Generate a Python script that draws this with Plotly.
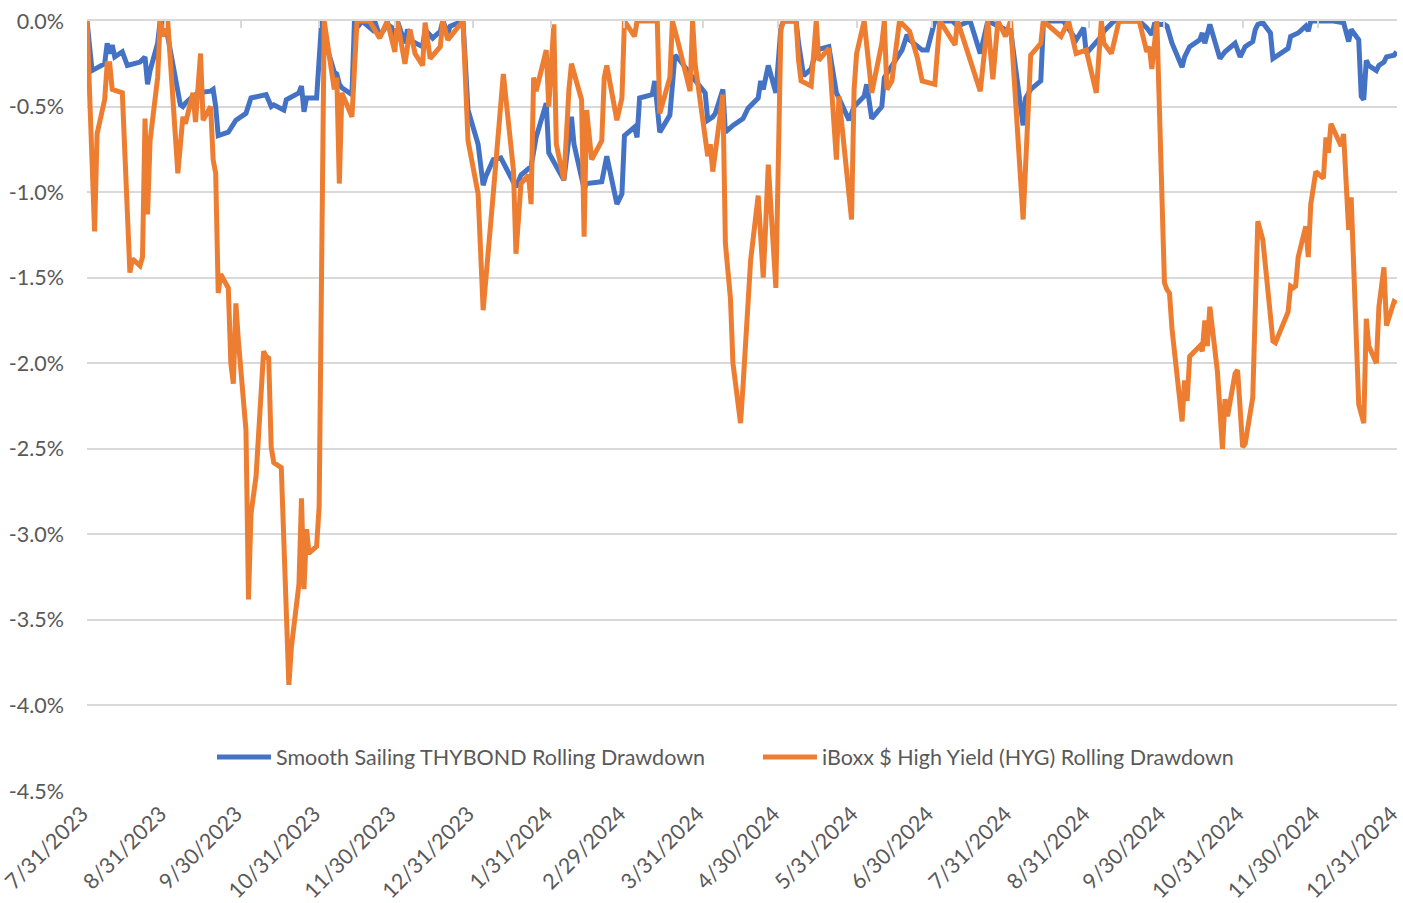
import plotly.graph_objects as go

THY_NAME = "Smooth Sailing THYBOND Rolling Drawdown"
HYG_NAME = "iBoxx $ High Yield (HYG) Rolling Drawdown"

THY_DATES = [
    "2023-07-31", "2023-08-02", "2023-08-07", "2023-08-08", "2023-08-09", "2023-08-10", "2023-08-11",
    "2023-08-14", "2023-08-16", "2023-08-21", "2023-08-23", "2023-08-24", "2023-08-25", "2023-08-28",
    "2023-08-29", "2023-08-31", "2023-09-01", "2023-09-06", "2023-09-07", "2023-09-08", "2023-09-11",
    "2023-09-13", "2023-09-18", "2023-09-19", "2023-09-20", "2023-09-21", "2023-09-25", "2023-09-28",
    "2023-10-02", "2023-10-04", "2023-10-10", "2023-10-12", "2023-10-13", "2023-10-17", "2023-10-18",
    "2023-10-23", "2023-10-24", "2023-10-25", "2023-10-26", "2023-10-30", "2023-11-01", "2023-11-02",
    "2023-11-06", "2023-11-07", "2023-11-08", "2023-11-09", "2023-11-13", "2023-11-14", "2023-11-15",
    "2023-11-16", "2023-11-17", "2023-11-21", "2023-11-22", "2023-11-24", "2023-11-27", "2023-11-29",
    "2023-11-30", "2023-12-01", "2023-12-04", "2023-12-05", "2023-12-07", "2023-12-11", "2023-12-12",
    "2023-12-14", "2023-12-15", "2023-12-18", "2023-12-19", "2023-12-21", "2023-12-22", "2023-12-27",
    "2023-12-29", "2024-01-02", "2024-01-03", "2024-01-04", "2024-01-05", "2024-01-08", "2024-01-11",
    "2024-01-16", "2024-01-17", "2024-01-19", "2024-01-22", "2024-01-23", "2024-01-25", "2024-01-29",
    "2024-01-30", "2024-02-05", "2024-02-08", "2024-02-09", "2024-02-13", "2024-02-14", "2024-02-20",
    "2024-02-22", "2024-02-26", "2024-02-28", "2024-02-29", "2024-03-04", "2024-03-05", "2024-03-06",
    "2024-03-11", "2024-03-12", "2024-03-14", "2024-03-18", "2024-03-20", "2024-03-22", "2024-03-26",
    "2024-04-01", "2024-04-02", "2024-04-04", "2024-04-05", "2024-04-08", "2024-04-09", "2024-04-12",
    "2024-04-16", "2024-04-18", "2024-04-22", "2024-04-23", "2024-04-24", "2024-04-25", "2024-04-26",
    "2024-04-29", "2024-05-01", "2024-05-02", "2024-05-07", "2024-05-08", "2024-05-10", "2024-05-13",
    "2024-05-15", "2024-05-20", "2024-05-23", "2024-05-24", "2024-05-28", "2024-05-30", "2024-06-03",
    "2024-06-04", "2024-06-06", "2024-06-10", "2024-06-11", "2024-06-18", "2024-06-20", "2024-06-21",
    "2024-06-26", "2024-06-28", "2024-07-01", "2024-07-08", "2024-07-10", "2024-07-15", "2024-07-19",
    "2024-07-22", "2024-07-29", "2024-07-31", "2024-08-05", "2024-08-06", "2024-08-08", "2024-08-12",
    "2024-08-13", "2024-08-14", "2024-08-21", "2024-08-26", "2024-08-29", "2024-08-30", "2024-09-05",
    "2024-09-06", "2024-09-09", "2024-09-10", "2024-09-20", "2024-09-23", "2024-09-25", "2024-09-26",
    "2024-09-30", "2024-10-01", "2024-10-03", "2024-10-07", "2024-10-08", "2024-10-10", "2024-10-14",
    "2024-10-15", "2024-10-16", "2024-10-18", "2024-10-22", "2024-10-24", "2024-10-28", "2024-10-30",
    "2024-11-01", "2024-11-04", "2024-11-05", "2024-11-06", "2024-11-08", "2024-11-11", "2024-11-12",
    "2024-11-18", "2024-11-19", "2024-11-22", "2024-11-25", "2024-11-26", "2024-11-27", "2024-12-06",
    "2024-12-10", "2024-12-12", "2024-12-13", "2024-12-16", "2024-12-17", "2024-12-18", "2024-12-19",
    "2024-12-20", "2024-12-23", "2024-12-24", "2024-12-26", "2024-12-27", "2024-12-30", "2024-12-31",
]
THY_DD = [
    0.00, -0.29, -0.25, -0.13, -0.19, -0.14, -0.21,
    -0.18, -0.26, -0.24, -0.21, -0.37, -0.29, -0.13,
    0.00, 0.00, -0.09, -0.49, -0.50, -0.48, -0.44,
    -0.42, -0.41, -0.40, -0.50, -0.67, -0.65, -0.58,
    -0.54, -0.45, -0.43, -0.50, -0.49, -0.52, -0.46,
    -0.42, -0.38, -0.53, -0.45, -0.45, 0.00, -0.10,
    -0.30, -0.31, -0.37, -0.39, -0.43, 0.00, 0.00,
    -0.02, 0.00, -0.05, 0.00, -0.09, -0.02, -0.04,
    -0.10, 0.00, -0.13, -0.05, -0.12, -0.15, -0.05,
    -0.08, -0.10, -0.06, 0.00, -0.07, -0.03, 0.00,
    -0.52, -0.72, -0.85, -0.96, -0.91, -0.81, -0.80,
    -0.95, -0.97, -0.90, -0.86, -0.85, -0.68, -0.48,
    -0.77, -0.93, -0.56, -0.72, -0.98, -0.95, -0.94,
    -0.79, -1.07, -1.01, -0.67, -0.62, -0.68, -0.45,
    -0.43, -0.35, -0.65, -0.55, -0.20, -0.23, -0.31,
    -0.42, -0.58, -0.56, -0.54, -0.40, -0.65, -0.61,
    -0.57, -0.51, -0.45, -0.35, -0.40, -0.34, -0.26,
    -0.42, -0.04, 0.00, 0.00, -0.13, -0.32, -0.28,
    -0.17, -0.15, -0.42, -0.45, -0.58, -0.50, -0.44,
    -0.37, -0.57, -0.50, -0.33, -0.17, -0.08, -0.11,
    -0.17, -0.17, 0.00, 0.00, -0.03, 0.00, -0.19,
    0.00, -0.05, -0.05, -0.61, -0.45, -0.40, -0.35,
    -0.02, 0.00, 0.00, -0.11, -0.04, -0.19, -0.09,
    -0.06, -0.02, 0.00, 0.00, -0.04, -0.08, -0.02,
    -0.02, -0.03, -0.13, -0.27, -0.21, -0.15, -0.11,
    -0.07, -0.13, -0.02, -0.22, -0.18, -0.13, -0.21,
    -0.15, -0.12, -0.05, -0.02, -0.01, -0.07, -0.22,
    -0.16, -0.09, -0.07, -0.03, -0.06, 0.00, 0.00,
    -0.01, -0.12, -0.05, -0.11, -0.44, -0.46, -0.23,
    -0.26, -0.29, -0.26, -0.24, -0.21, -0.20, -0.18,
]

HYG_DATES = [
    "2023-07-31", "2023-08-03", "2023-08-04", "2023-08-07", "2023-08-08", "2023-08-09", "2023-08-10",
    "2023-08-14", "2023-08-17", "2023-08-18", "2023-08-21", "2023-08-22", "2023-08-23", "2023-08-24",
    "2023-08-25", "2023-08-28", "2023-08-29", "2023-08-30", "2023-09-01", "2023-09-05", "2023-09-07",
    "2023-09-08", "2023-09-11", "2023-09-12", "2023-09-14", "2023-09-15", "2023-09-18", "2023-09-19",
    "2023-09-20", "2023-09-21", "2023-09-22", "2023-09-25", "2023-09-26", "2023-09-27", "2023-09-28",
    "2023-09-29", "2023-10-02", "2023-10-03", "2023-10-04", "2023-10-06", "2023-10-09", "2023-10-10",
    "2023-10-11", "2023-10-12", "2023-10-13", "2023-10-16", "2023-10-19", "2023-10-20", "2023-10-23",
    "2023-10-24", "2023-10-25", "2023-10-26", "2023-10-27", "2023-10-30", "2023-10-31", "2023-11-01",
    "2023-11-02", "2023-11-06", "2023-11-07", "2023-11-08", "2023-11-09", "2023-11-13", "2023-11-14",
    "2023-11-15", "2023-11-20", "2023-11-24", "2023-11-27", "2023-11-30", "2023-12-01", "2023-12-04",
    "2023-12-06", "2023-12-08", "2023-12-11", "2023-12-12", "2023-12-14", "2023-12-18", "2023-12-19",
    "2023-12-21", "2023-12-27", "2023-12-29", "2024-01-02", "2024-01-04", "2024-01-08", "2024-01-12",
    "2024-01-16", "2024-01-17", "2024-01-19", "2024-01-22", "2024-01-23", "2024-01-24", "2024-01-25",
    "2024-01-29", "2024-01-30", "2024-02-01", "2024-02-02", "2024-02-05", "2024-02-07", "2024-02-08",
    "2024-02-12", "2024-02-13", "2024-02-14", "2024-02-16", "2024-02-20", "2024-02-21", "2024-02-22",
    "2024-02-26", "2024-02-28", "2024-02-29", "2024-03-04", "2024-03-05", "2024-03-13", "2024-03-14",
    "2024-03-18", "2024-03-19", "2024-03-21", "2024-03-26", "2024-03-27", "2024-03-28", "2024-04-02",
    "2024-04-03", "2024-04-04", "2024-04-08", "2024-04-09", "2024-04-10", "2024-04-11", "2024-04-12",
    "2024-04-15", "2024-04-16", "2024-04-18", "2024-04-19", "2024-04-22", "2024-04-24", "2024-04-25",
    "2024-04-26", "2024-04-29", "2024-05-01", "2024-05-02", "2024-05-07", "2024-05-08", "2024-05-09",
    "2024-05-13", "2024-05-14", "2024-05-15", "2024-05-16", "2024-05-20", "2024-05-23", "2024-05-24",
    "2024-05-29", "2024-05-30", "2024-05-31", "2024-06-03", "2024-06-06", "2024-06-07", "2024-06-10",
    "2024-06-11", "2024-06-12", "2024-06-14", "2024-06-17", "2024-06-21", "2024-06-24", "2024-06-26",
    "2024-07-01", "2024-07-03", "2024-07-09", "2024-07-10", "2024-07-19", "2024-07-22", "2024-07-24",
    "2024-07-26", "2024-07-29", "2024-07-31", "2024-08-05", "2024-08-08", "2024-08-12", "2024-08-13",
    "2024-08-20", "2024-08-23", "2024-08-26", "2024-08-30", "2024-09-03", "2024-09-05", "2024-09-06",
    "2024-09-09", "2024-09-12", "2024-09-20", "2024-09-23", "2024-09-24", "2024-09-25", "2024-09-27",
    "2024-09-30", "2024-10-01", "2024-10-02", "2024-10-03", "2024-10-07", "2024-10-08", "2024-10-09",
    "2024-10-10", "2024-10-14", "2024-10-15", "2024-10-16", "2024-10-17", "2024-10-18", "2024-10-21",
    "2024-10-22", "2024-10-23", "2024-10-24", "2024-10-25", "2024-10-28", "2024-10-29", "2024-10-31",
    "2024-11-01", "2024-11-04", "2024-11-05", "2024-11-06", "2024-11-08", "2024-11-11", "2024-11-12",
    "2024-11-13", "2024-11-18", "2024-11-19", "2024-11-20", "2024-11-21", "2024-11-22", "2024-11-25",
    "2024-11-26", "2024-11-27", "2024-11-29", "2024-12-02", "2024-12-03", "2024-12-04", "2024-12-05",
    "2024-12-09", "2024-12-10", "2024-12-12", "2024-12-13", "2024-12-16", "2024-12-17", "2024-12-18",
    "2024-12-19", "2024-12-20", "2024-12-23", "2024-12-24", "2024-12-26", "2024-12-27", "2024-12-30",
    "2024-12-31",
]
HYG_DD = [
    0.00, -1.23, -0.66, -0.46, -0.25, -0.25, -0.40,
    -0.42, -1.47, -1.39, -1.43, -1.38, -0.57, -1.13,
    -0.70, -0.33, 0.00, -0.09, 0.00, -0.89, -0.56,
    -0.60, -0.42, -0.59, -0.19, -0.58, -0.50, -0.81,
    -0.89, -1.59, -1.48, -1.56, -2.00, -2.12, -1.65,
    -1.87, -2.39, -3.38, -2.88, -2.66, -1.93, -1.96,
    -1.97, -2.49, -2.58, -2.61, -3.88, -3.66, -3.29,
    -2.79, -3.32, -2.97, -3.11, -3.07, -2.84, -1.60,
    0.00, -0.40, -0.33, -0.95, -0.42, -0.56, -0.32,
    0.00, 0.00, -0.10, 0.00, -0.18, 0.00, -0.25,
    -0.05, -0.19, -0.26, -0.01, -0.22, -0.15, 0.00,
    -0.11, 0.00, -0.70, -1.01, -1.69, -1.01, -0.31,
    -0.87, -1.36, -0.95, -0.90, -1.07, -0.33, -0.41,
    -0.17, -0.50, -0.02, -0.72, -0.93, -0.40, -0.25,
    -0.46, -1.26, -0.52, -0.81, -0.70, -0.33, -0.26,
    -0.58, -0.45, 0.00, -0.09, 0.00, 0.00, -0.54,
    -0.33, 0.00, -0.11, -0.41, 0.00, -0.25, -0.79,
    -0.72, -0.88, -0.43, -1.30, -1.44, -1.62, -2.00,
    -2.35, -2.13, -1.70, -1.40, -1.02, -1.50, -1.18,
    -0.84, -1.56, -0.05, 0.00, 0.00, -0.23, -0.35,
    -0.38, -0.19, 0.00, -0.23, -0.16, -0.81, -0.44,
    -1.16, -0.40, -0.19, 0.00, -0.42, -0.35, -0.13,
    0.00, -0.40, -0.35, 0.00, -0.06, -0.21, -0.35,
    -0.37, 0.00, -0.14, 0.00, -0.41, 0.00, -0.34,
    0.00, -0.09, 0.00, -1.16, -0.20, -0.13, 0.00,
    -0.09, 0.00, -0.19, -0.17, -0.42, 0.00, -0.13,
    -0.19, 0.00, 0.00, -0.18, -0.15, -0.28, 0.00,
    -1.53, -1.57, -1.59, -1.80, -2.34, -2.10, -2.22,
    -1.96, -1.90, -1.93, -1.75, -1.90, -1.67, -2.05,
    -2.30, -2.50, -2.21, -2.31, -2.06, -2.04, -2.49,
    -2.47, -2.20, -1.75, -1.17, -1.28, -1.69, -1.87,
    -1.88, -1.70, -1.55, -1.56, -1.55, -1.38, -1.20,
    -1.38, -1.07, -0.88, -0.92, -0.68, -0.77, -0.60,
    -0.73, -0.66, -1.22, -1.03, -2.24, -2.30, -2.35,
    -1.74, -1.90, -2.00, -1.67, -1.44, -1.78, -1.64,
    -1.65,
]

X_TICK_DATES = [
    "2023-07-31", "2023-08-31", "2023-09-30", "2023-10-31", "2023-11-30", "2023-12-31",
    "2024-01-31", "2024-02-29", "2024-03-31", "2024-04-30", "2024-05-31", "2024-06-30",
    "2024-07-31", "2024-08-31", "2024-09-30", "2024-10-31", "2024-11-30", "2024-12-31",
]
X_TICK_LABELS = [
    "7/31/2023", "8/31/2023", "9/30/2023", "10/31/2023", "11/30/2023", "12/31/2023",
    "1/31/2024", "2/29/2024", "3/31/2024", "4/30/2024", "5/31/2024", "6/30/2024",
    "7/31/2024", "8/31/2024", "9/30/2024", "10/31/2024", "11/30/2024", "12/31/2024",
]
Y_TICK_VALUES = [0.0, -0.5, -1.0, -1.5, -2.0, -2.5, -3.0, -3.5, -4.0, -4.5]
Y_TICK_LABELS = ["0.0%", "-0.5%", "-1.0%", "-1.5%", "-2.0%", "-2.5%", "-3.0%", "-3.5%", "-4.0%", "-4.5%"]

BLUE = "#4472C4"
ORANGE = "#ED7D31"
GRID = "#D9D9D9"
TEXT = "#595959"
FONT = "Lato, Carlito, Calibri, sans-serif"
FS = 21.5

fig = go.Figure()
fig.add_trace(go.Scatter(
    x=THY_DATES, y=THY_DD, name=THY_NAME, mode="lines",
    line=dict(color=BLUE, width=5), xaxis="x", yaxis="y",
))
fig.add_trace(go.Scatter(
    x=HYG_DATES, y=HYG_DD, name=HYG_NAME, mode="lines",
    line=dict(color=ORANGE, width=5), xaxis="x2", yaxis="y",
))

x_range = [X_TICK_DATES[0], X_TICK_DATES[-1] + " 04:00"]

fig.update_layout(
    width=1403, height=903,
    margin=dict(l=87, r=6, t=21, b=112, autoexpand=False),
    paper_bgcolor="white", plot_bgcolor="white",
    font=dict(family=FONT, color=TEXT, size=FS),
    showlegend=True,
    legend=dict(
        orientation="h", x=0.0954, xanchor="left", y=0.044, yanchor="middle",
        font=dict(family=FONT, color=TEXT, size=FS),
        bgcolor="rgba(0,0,0,0)", itemwidth=54,
        entrywidth=477, entrywidthmode="pixels",
    ),
    xaxis=dict(
        type="date", range=x_range, tickmode="array", tickvals=X_TICK_DATES, ticktext=X_TICK_LABELS,
        tickangle=-45, showgrid=False, zeroline=False, showline=False, ticks="",
        tickfont=dict(family=FONT, color=TEXT, size=FS), ticklabelstandoff=5, ticklabelshift=-5,
        ticklabeloverflow="allow", automargin=False,
    ),
    xaxis2=dict(
        type="date", range=x_range, matches="x", overlaying="x", side="top", anchor="y",
        tickmode="array", tickvals=X_TICK_DATES, showticklabels=False,
        ticks="inside", ticklen=7, tickwidth=1.5, tickcolor=GRID,
        showline=True, linecolor=GRID, linewidth=1.5, showgrid=False, zeroline=False, automargin=False,
    ),
    yaxis=dict(
        range=[-4.5, 0], tickmode="array", tickvals=Y_TICK_VALUES, ticktext=Y_TICK_LABELS,
        showgrid=True, gridcolor=GRID, gridwidth=1.5, zeroline=False, showline=False, ticks="",
        tickfont=dict(family=FONT, color=TEXT, size=FS), ticklabelstandoff=22, automargin=False,
    ),
    hovermode=False,
)

fig.write_html(
    "out.html",
    config={"displayModeBar": False},
    post_script="document.body.style.margin='0';document.body.style.overflow='hidden';",
)
